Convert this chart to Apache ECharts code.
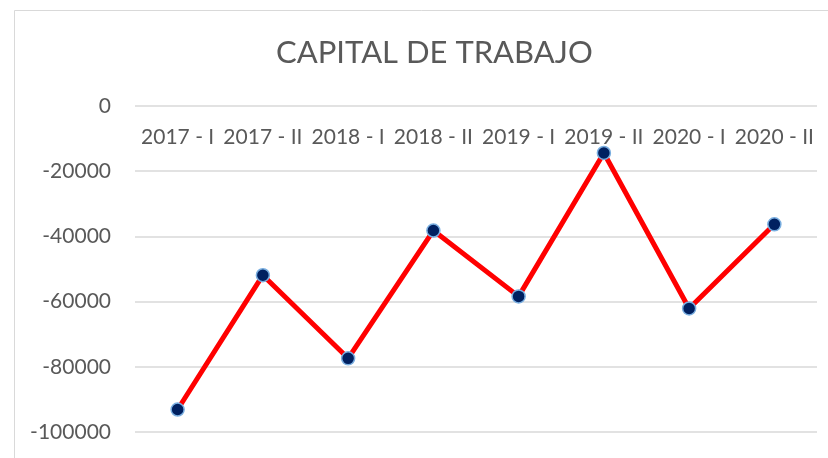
<!DOCTYPE html>
<html>
<head>
<meta charset="utf-8">
<script src="https://cdn.jsdelivr.net/npm/echarts@6/dist/echarts.min.js"></script>
<style>
html, body { margin: 0; padding: 0; background: #fff; }
#main { width: 828px; height: 458px; }
</style>
</head>
<body>
<div id="main"></div>
<script>
// data
const categories = ['2017 - I', '2017 - II', '2018 - I', '2018 - II', '2019 - I', '2019 - II', '2020 - I', '2020 - II']
const capital = [-93100, -51900, -77400, -38200, -58400, -14400, -62100, -36300]
const yMin = -100000
const yMax = 0
const yStep = 20000

const myChart = echarts.init(document.getElementById('main'))

myChart.setOption({
	backgroundColor: '#fff',
	textStyle: { fontFamily: 'Lato' },
	title: {
		text: 'CAPITAL DE TRABAJO',
		left: 271,
		top: 32,
		textStyle: { fontSize: 31, fontWeight: 'normal', color: '#595959', fontFamily: 'Lato' }
	},
	graphic: [
		{
			// chart frame, cut at right and bottom like the reference
			type: 'rect',
			shape: { x: 14.5, y: 10.5, width: 900, height: 600 },
			style: { fill: null, stroke: '#d9d9d9', lineWidth: 1 },
			silent: true
		}
	],
	grid: {
		left: 135,
		right: 11,
		top: 106,
		bottom: 458 - 432
	},
	xAxis: {
		type: 'category',
		data: categories,
		position: 'top',
		boundaryGap: true,
		axisLine: { show: false },
		axisTick: { show: false },
		axisLabel: {
			inside: true,
			interval: 0,
			margin: 21,
			fontSize: 21,
			color: '#595959',
			fontFamily: 'Lato'
		}
	},
	yAxis: {
		type: 'value',
		min: yMin,
		max: yMax,
		interval: yStep,
		axisLine: { show: false },
		axisTick: { show: false },
		axisLabel: {
			fontSize: 21,
			color: '#595959',
			margin: 24,
			fontFamily: 'Lato',
			formatter: (v) => String(v)
		},
		splitLine: { lineStyle: { color: '#d9d9d9', width: 1.5 } }
	},
	series: [
		{
			name: 'Capital de trabajo',
			type: 'line',
			data: capital,
			symbol: 'circle',
			symbolSize: 13,
			lineStyle: { color: '#ff0000', width: 5 },
			itemStyle: { color: '#002060', borderColor: '#79aee0', borderWidth: 1.5 },
			z: 3
		}
	]
})
</script>
</body>
</html>
